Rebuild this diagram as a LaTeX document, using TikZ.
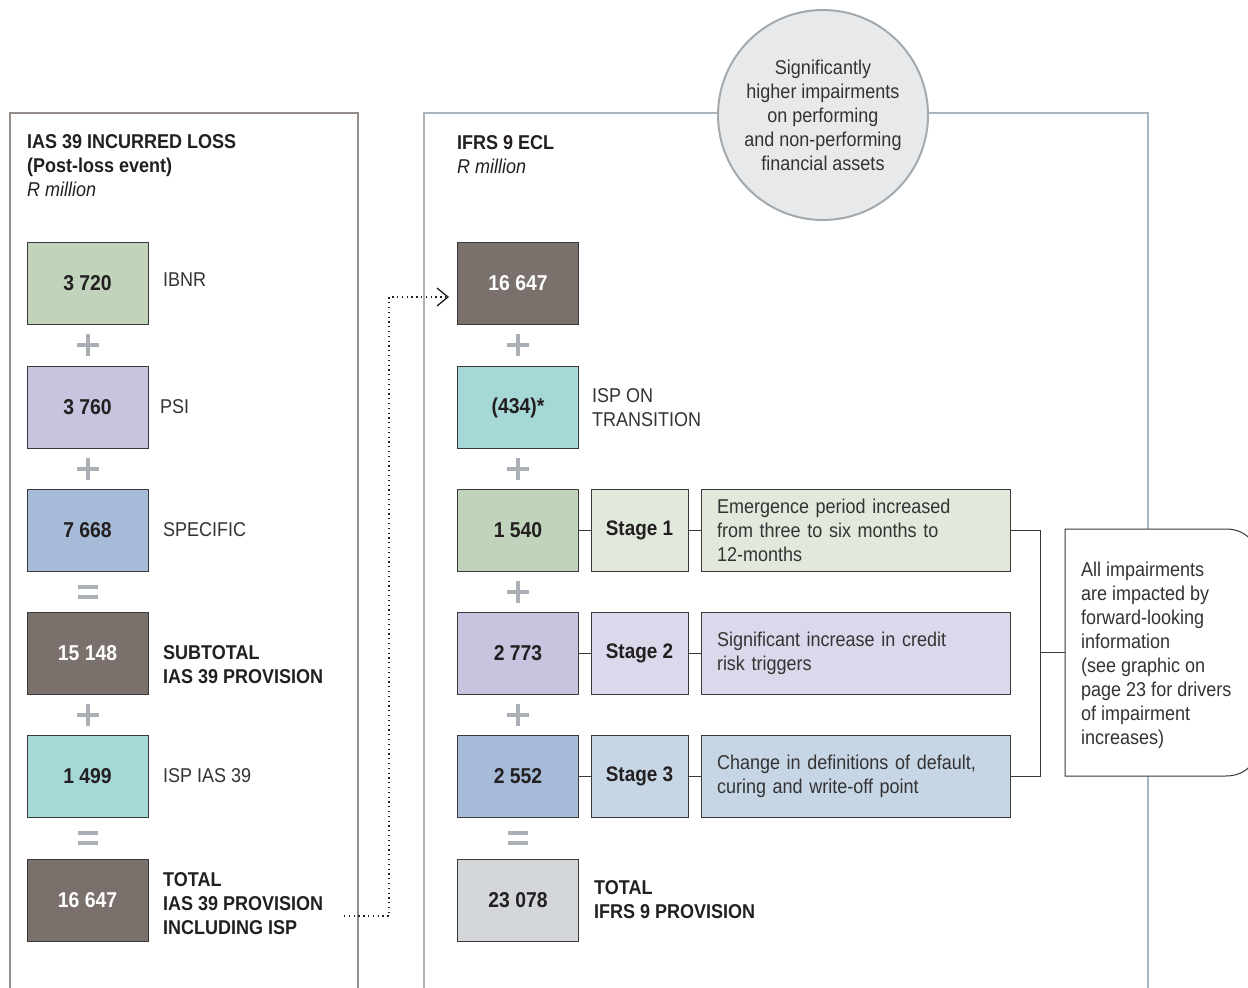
\documentclass[tikz,border=0pt]{standalone}
\usepackage{fontspec}
\setmainfont{Liberation Sans}[FakeStretch=0.9]
\usetikzlibrary{arrows.meta}
\definecolor{ink}{HTML}{231F20}
\definecolor{txt}{HTML}{333333}
\definecolor{cgreen}{HTML}{C1D4BB}
\definecolor{clav}{HTML}{C6C4DE}
\definecolor{cblue}{HTML}{A6BBD8}
\definecolor{cbrown}{HTML}{7A716D}
\definecolor{cteal}{HTML}{A7D8D8}
\definecolor{cgray}{HTML}{D3D7D9}
\definecolor{sone}{HTML}{E1E9DD}
\definecolor{stwo}{HTML}{DAD8EA}
\definecolor{sthree}{HTML}{C7D6E5}
\definecolor{circfill}{HTML}{E8E9EA}
\definecolor{circline}{HTML}{A3AAAF}
\definecolor{signc}{HTML}{A9AFB4}
\definecolor{leftpanel}{HTML}{948D8A}
\definecolor{rightpanel}{HTML}{AAB4BD}
\definecolor{boxline}{HTML}{3A3838}
\begin{document}
\begin{tikzpicture}[x=1pt,y=-1pt,
  every node/.style={inner sep=0pt},
  numbox/.style={draw=boxline, line width=1pt, minimum width=121pt, minimum height=82pt, font=\bfseries\fontsize{21.5}{24}\selectfont, text=ink},
  stagebox/.style={draw=boxline, line width=1pt, minimum width=97pt, minimum height=82pt, font=\bfseries\fontsize{21}{24}\selectfont, text=ink},
  descbox/.style={draw=boxline, line width=1pt, text width=277pt, inner xsep=16pt, minimum height=82pt, align=left, font=\fontsize{20}{24}\selectfont, text=txt},
  lbl/.style={anchor=west, align=left, font=\fontsize{20}{24}\selectfont, text=txt},
  blbl/.style={anchor=west, align=left, font=\bfseries\fontsize{20}{24}\selectfont, text=ink},
  signline/.style={draw=signc, line width=4pt},
  link/.style={draw=boxline, line width=1pt},
  panel/.style={line width=2pt}]
\useasboundingbox (0,0) rectangle (1248,988);
\clip (0,0) rectangle (1248,988);
% panels
\draw[panel, draw=leftpanel] (10,990) -- (10,113) -- (358,113) -- (358,990);
\draw[panel, draw=rightpanel] (424,990) -- (424,113) -- (1148,113) -- (1148,990);
\node[circle, draw=circline, fill=circfill, line width=2pt, minimum size=210pt, align=center, font=\fontsize{20}{24}\selectfont, text=txt] (circ) at (823,115) {Significantly\\higher impairments\\on performing\\and non-performing\\financial assets};
% headers
\node[anchor=west, align=left, font=\fontsize{20}{24}\selectfont, text=ink] (lhead) at (27,166) {\textbf{IAS 39 INCURRED LOSS}\\\textbf{(Post-loss event)}\\\textit{R million}};
\node[anchor=west, align=left, font=\fontsize{20}{24}\selectfont, text=ink] (rhead) at (457,155) {\textbf{IFRS 9 ECL}\\\textit{R million}};
% left column
\node[numbox, fill=cgreen] (l1) at (87.5,283.5) {3 720};
\node[numbox, fill=clav] (l2) at (87.5,407.5) {3 760};
\node[numbox, fill=cblue] (l3) at (87.5,530.5) {7 668};
\node[numbox, fill=cbrown, text=white] (l4) at (87.5,653.5) {15 148};
\node[numbox, fill=cteal] (l5) at (87.5,776.5) {1 499};
\node[numbox, fill=cbrown, text=white] (l6) at (87.5,900.5) {16 647};
\node[lbl] (t1) at (163,280) {IBNR};
\node[lbl] (t2) at (160,407) {PSI};
\node[lbl] (t3) at (163,530) {SPECIFIC};
\node[blbl] (t4) at (163,665) {SUBTOTAL\\IAS 39 PROVISION};
\node[lbl] (t5) at (163,776) {ISP IAS 39};
\node[blbl] (t6) at (163,904) {TOTAL\\IAS 39 PROVISION\\INCLUDING ISP};
% right column
\node[numbox, fill=cbrown, text=white] (r1) at (518,283.5) {16 647};
\node[numbox, fill=cteal] (r2) at (518,407.5) {(434)*};
\node[numbox, fill=cgreen] (r3) at (518,530.5) {1 540};
\node[numbox, fill=clav] (r4) at (518,653.5) {2 773};
\node[numbox, fill=cblue] (r5) at (518,776.5) {2 552};
\node[numbox, fill=cgray] (r6) at (518,900.5) {23 078};
\node[lbl] (u2) at (592,408) {ISP ON\\TRANSITION};
\node[blbl] (u6) at (594,900) {TOTAL\\IFRS 9 PROVISION};
\node[stagebox, fill=sone] (s1) at (639.5,530.5) {Stage 1};
\node[stagebox, fill=stwo] (s2) at (639.5,653.5) {Stage 2};
\node[stagebox, fill=sthree] (s3) at (639.5,776.5) {Stage 3};
\node[descbox, fill=sone] (d1) at (855.5,530.5) {Emergence period increased\\from three to six months to\\12-months};
\node[descbox, fill=stwo] (d2) at (855.5,653.5) {Significant increase in credit\\risk triggers};
\node[descbox, fill=sthree] (d3) at (855.5,776.5) {Change in definitions of default,\\curing and write-off point};
\draw[link] (r3) -- (s1); \draw[link] (s1) -- (d1);
\draw[link] (r4) -- (s2); \draw[link] (s2) -- (d2);
\draw[link] (r5) -- (s3); \draw[link] (s3) -- (d3);
% note box
\draw[draw=boxline, line width=1pt, fill=white] (1065,529) -- (1226,529) .. controls (1245,529) and (1258,542) .. (1258,561) -- (1258,744) .. controls (1258,763) and (1245,776) .. (1226,776) -- (1065,776) -- cycle;
\node[lbl] (note) at (1081,655) {All impairments\\are impacted by\\forward-looking\\information\\(see graphic on\\page 23 for drivers\\of impairment\\increases)};
\coordinate (brk) at (1040,652);
\coordinate (notein) at (1065,652);
\draw[link] (d1.east) -| (brk) |- (d3.east);
\draw[link] (brk) -- (notein);
% dotted connector
\coordinate (dstart) at (344,916);
\coordinate (dend) at (449,297);
\draw[ink, line width=1.3pt, dash pattern=on 1.3pt off 3.5pt, -{Straight Barb[length=11pt,width=18pt,line width=1.3pt]}] (dstart) -- (389,916) -- (389,297) -- (dend);
% signs left
\foreach \y in {345,468.5,714.5} {
  \draw[signline] (77,\y) -- (99,\y);
  \draw[signline] (88,\y-11) -- (88,\y+11);
}
\foreach \y in {591.5,838} {
  \draw[signline] (78,\y-5) -- (98,\y-5);
  \draw[signline] (78,\y+5) -- (98,\y+5);
}
% signs right
\foreach \y in {345,468.5,591.5,714.5} {
  \draw[signline] (507,\y) -- (529,\y);
  \draw[signline] (518,\y-11) -- (518,\y+11);
}
\foreach \y in {838} {
  \draw[signline] (508,\y-5) -- (528,\y-5);
  \draw[signline] (508,\y+5) -- (528,\y+5);
}
\end{tikzpicture}
\end{document}
